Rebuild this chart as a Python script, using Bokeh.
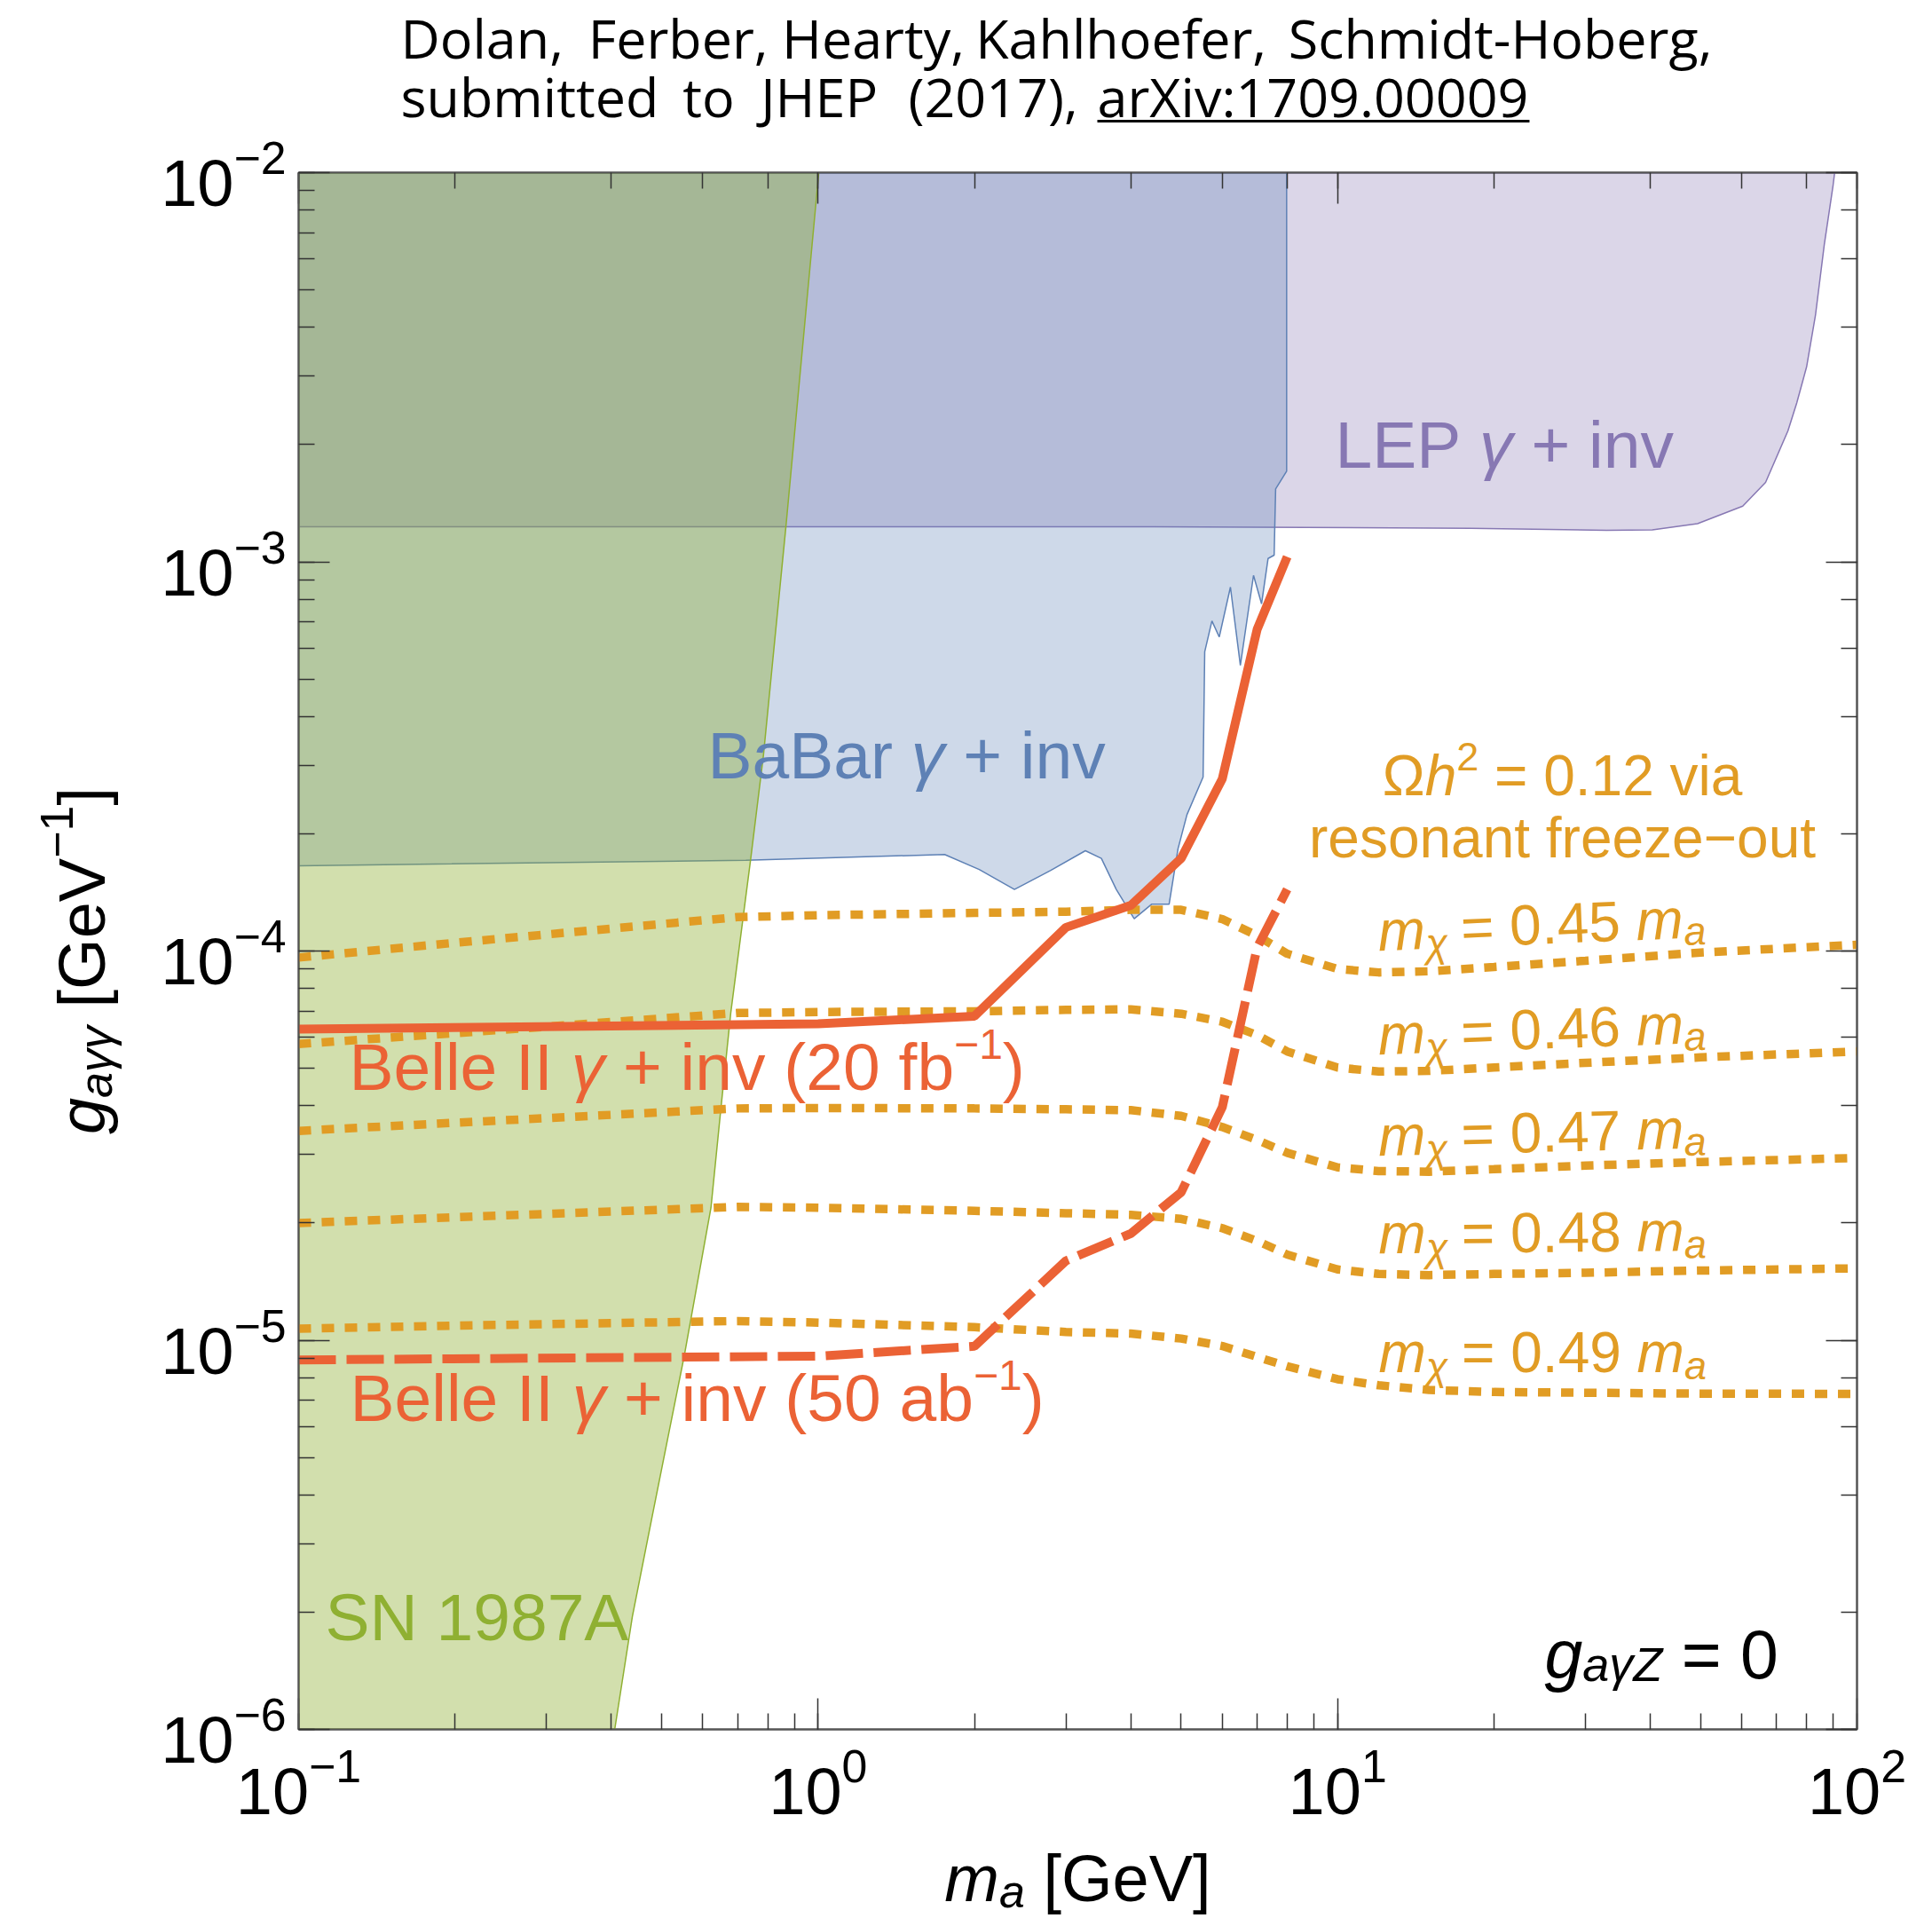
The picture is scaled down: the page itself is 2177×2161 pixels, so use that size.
import math
from bokeh.plotting import figure
from bokeh.layouts import column, row
from bokeh.models import Label, LogAxis, LogTicker, CustomJSTickFormatter
from bokeh.embed import file_html
from bokeh.resources import INLINE

# ---------------- data ----------------
XMIN, XMAX = 0.1, 100.0
YMIN, YMAX = 1e-6, 1e-2

# LEP gamma + inv excluded region: lower boundary (m_a [GeV], g [GeV^-1])
lep_m = [0.1, 4.44, 18.07, 32.96, 40.36, 49.32, 60.26, 66.68, 73.62, 76.56, 79.98, 83.18, 86.50, 89.95, 90.57]
lep_g = [1.23e-3, 1.23e-3, 1.22e-3, 1.205e-3, 1.208e-3, 1.253e-3, 1.39e-3, 1.60e-3, 2.17e-3, 2.56e-3,
         3.17e-3, 4.30e-3, 6.53e-3, 9.29e-3, 1e-2]

# BaBar gamma + inv excluded region: lower boundary
babar_m = [0.1, 0.726, 1.752, 2.042, 2.388, 2.80, 3.27, 3.51, 3.75, 4.06, 4.39, 4.74, 4.93, 5.13, 5.51,
           5.55, 5.73, 5.92, 6.22, 6.50, 6.89, 7.14, 7.35, 7.55, 7.60, 7.98, 7.98]
babar_g = [1.656e-4, 1.71e-4, 1.77e-4, 1.62e-4, 1.44e-4, 1.61e-4, 1.81e-4, 1.73e-4, 1.44e-4, 1.21e-4,
           1.32e-4, 1.32e-4, 1.83e-4, 2.24e-4, 2.80e-4, 5.87e-4, 7.05e-4, 6.41e-4, 8.61e-4, 5.42e-4,
           9.23e-4, 7.80e-4, 1.02e-3, 1.04e-3, 1.54e-3, 1.71e-3, 1e-2]

# SN 1987A excluded region: right boundary
sn_m = [1.003, 0.867, 0.785, 0.742, 0.679, 0.650, 0.622, 0.553, 0.480, 0.439, 0.406]
sn_g = [1e-2, 1.23e-3, 3.19e-4, 1.73e-4, 6.93e-5, 3.94e-5, 2.19e-5, 9.17e-6, 3.56e-6, 1.95e-6, 1e-6]

# Belle II projections
belle_m = [0.1, 1, 2, 3, 4, 5, 6, 7, 8]
belle20_g = [6.3e-5, 6.5e-5, 6.8e-5, 1.15e-4, 1.31e-4, 1.73e-4, 2.77e-4, 6.7e-4, 1.03e-3]
belle50_g = [8.9e-6, 9.1e-6, 9.65e-6, 1.6e-5, 1.88e-5, 2.4e-5, 3.97e-5, 1.02e-4, 1.44e-4]

# Relic density contours (Omega h^2 = 0.12), m_chi / m_a = 0.45 ... 0.49
relic_m = [0.1, 0.2, 0.7, 1, 2, 3, 4, 5, 6, 7, 8, 10, 12, 15, 20, 30, 50, 100]
relic_045 = [9.62e-5, 1.050e-4, 1.222e-4, 1.236e-4, 1.253e-4, 1.262e-4, 1.276e-4, 1.276e-4, 1.208e-4,
             1.096e-4, 9.84e-5, 8.99e-5, 8.81e-5, 8.87e-5, 9.10e-5, 9.44e-5, 9.91e-5, 1.038e-4]
relic_046 = [5.77e-5, 6.15e-5, 6.93e-5, 6.97e-5, 7.00e-5, 7.06e-5, 7.08e-5, 6.90e-5, 6.58e-5, 6.08e-5,
             5.52e-5, 5.02e-5, 4.90e-5, 4.92e-5, 5.02e-5, 5.16e-5, 5.33e-5, 5.52e-5]
relic_047 = [3.45e-5, 3.62e-5, 3.94e-5, 3.95e-5, 3.94e-5, 3.92e-5, 3.90e-5, 3.77e-5, 3.53e-5, 3.27e-5,
             3.03e-5, 2.78e-5, 2.72e-5, 2.71e-5, 2.75e-5, 2.81e-5, 2.87e-5, 2.94e-5]
relic_048 = [2.00e-5, 2.07e-5, 2.20e-5, 2.19e-5, 2.15e-5, 2.12e-5, 2.10e-5, 2.05e-5, 1.94e-5, 1.80e-5,
             1.66e-5, 1.52e-5, 1.48e-5, 1.47e-5, 1.48e-5, 1.49e-5, 1.51e-5, 1.53e-5]
relic_049 = [1.07e-5, 1.09e-5, 1.12e-5, 1.11e-5, 1.08e-5, 1.05e-5, 1.04e-5, 1.01e-5, 9.66e-6, 9.06e-6,
             8.57e-6, 7.94e-6, 7.66e-6, 7.45e-6, 7.36e-6, 7.33e-6, 7.29e-6, 7.28e-6]
relic_curves = [relic_045, relic_046, relic_047, relic_048, relic_049]
relic_labels = ["0.45", "0.46", "0.47", "0.48", "0.49"]

title_line1 = ["Dolan,", "Ferber,", "Hearty,", "Kahlhoefer,", "Schmidt-Hoberg,"]
title_line2 = ["submitted", "to", "JHEP", "(2017),", "arXiv:1709.00009"]

# ---------------- styling / layout ----------------
PURPLE = "#8778b3"
BLUE = "#5e81b5"
GREEN = "#8fb032"
RED = "#eb6235"
ORANGE = "#e19c24"
SANS = "Liberation Sans"
TFONT = "Open Sans"

W, H = 2177, 2161
FL, FR, FT, FB = 336, 2092, 194, 1948   # wanted frame edges in canvas px
HT = 150          # title strip height
HB = 87           # x-label strip height
WL = 150          # y-label strip width
HM = H - HT - HB  # main row height
WM = W - WL

def blank(w, h):
    f = figure(width=w, height=h, x_range=(0, w), y_range=(0, h), output_backend="svg",
               toolbar_location=None, x_axis_location=None, y_axis_location=None, min_border=0)
    f.grid.visible = False
    f.outline_line_color = None
    f.background_fill_color = "white"
    f.border_fill_color = "white"
    return f

title_fig = blank(W, HT)
ylab_fig = blank(WL, HM)
xlab_fig = blank(W, HB)

p = figure(width=WM, height=HM, x_axis_type="log", y_axis_type="log",
           x_range=(XMIN, XMAX), y_range=(YMIN, YMAX),
           output_backend="svg", toolbar_location=None,
           min_border_left=FL - WL, min_border_right=W - FR,
           min_border_top=FT - HT, min_border_bottom=(HT + HM) - FB)
p.grid.visible = False
p.background_fill_color = "white"
p.border_fill_color = "white"
p.outline_line_color = "#555555"
p.outline_line_width = 2

def style_axis(ax, labels=True):
    ax.major_tick_in = 35
    ax.major_tick_out = 0
    ax.minor_tick_in = 18
    ax.minor_tick_out = 0
    ax.major_tick_line_color = "#333333"
    ax.minor_tick_line_color = "#333333"
    ax.major_tick_line_width = 1.5
    ax.minor_tick_line_width = 1.5
    ax.axis_line_color = "#555555"
    ax.axis_line_width = 2
    if labels:
        ax.major_label_text_font = SANS
        ax.major_label_text_font_size = "74px"
        ax.major_label_text_color = "black"
    else:
        ax.major_label_text_font_size = "1px"
        ax.major_label_standoff = 0

style_axis(p.xaxis[0])
style_axis(p.yaxis[0])
p.xaxis[0].major_label_standoff = 20
p.yaxis[0].major_label_standoff = 14

top_ax = LogAxis(ticker=LogTicker(), formatter=CustomJSTickFormatter(code="return ''"))
right_ax = LogAxis(ticker=LogTicker(), formatter=CustomJSTickFormatter(code="return ''"))
style_axis(top_ax, labels=False)
style_axis(right_ax, labels=False)
p.add_layout(top_ax, "above")
p.add_layout(right_ax, "right")

# ---------------- regions and curves ----------------
p.patch(lep_m + [XMIN], lep_g + [YMAX], fill_color=PURPLE, fill_alpha=0.3,
        line_color=PURPLE, line_width=1.5)
p.patch(babar_m + [XMIN], babar_g + [YMAX], fill_color=BLUE, fill_alpha=0.3,
        line_color=BLUE, line_width=1.5)
p.patch(sn_m + [XMIN, XMIN], sn_g + [YMIN, YMAX], fill_color=GREEN, fill_alpha=0.4,
        line_color=GREEN, line_width=1.5)

for curve in relic_curves:
    p.line(relic_m, curve, line_color=ORANGE, line_width=9.5, line_dash="14 12")

p.line(belle_m, belle20_g, line_color=RED, line_width=10)
p.line(belle_m, belle50_g, line_color=RED, line_width=10, line_dash="42 12")

# ---------------- text helpers ----------------
ADV = {' ': 278, '+': 584, '=': 584, '(': 333, ')': 333, '.': 278, ',': 278, ':': 278, '\u2212': 584,
       '-': 333, '[': 278, ']': 278, 'A': 667, 'B': 667, 'E': 667, 'G': 778, 'I': 278, 'L': 556,
       'N': 722, 'P': 667, 'S': 667, 'V': 667, 'Z': 611, '\u03a9': 750, 'a': 556, 'b': 556, 'e': 556,
       'f': 278, 'g': 556, 'h': 556, 'i': 222, 'l': 222, 'm': 833, 'n': 556, 'o': 556, 'r': 333,
       's': 500, 't': 278, 'u': 556, 'v': 500, 'z': 500, '\u03b3': 500, '\u03c7': 500}
for d in "0123456789":
    ADV[d] = 556

# approximate Open Sans word widths at 60px (for spacing the title words)
TWORD60 = {"Dolan,": 179, "Ferber,": 186, "Hearty,": 186, "Kahlhoefer,": 318, "Schmidt-Hoberg,": 466,
           "submitted": 282, "to": 56, "JHEP": 133, "(2017),": 179, "arXiv:1709.00009": 477}

# canvas origin (left, bottom) of each figure's frame
ORIG = {
    "main": (p, FL, FB),
    "title": (title_fig, 0, HT),
    "ylab": (ylab_fig, 0, HT + HM),
    "xlab": (xlab_fig, 0, H),
}
# Bokeh places "alphabetic" labels with the text box centred on the anchor:
# shift by (ascent - (ascent + descent) / 2) of the font
BASE_CORR = {SANS: 0.3465, TFONT: 0.388}

def tw(t, size):
    return sum(ADV.get(c, 556) for c in t) * size / 1000.0

def put(where, X, Y, text, size, color, style, angle, font):
    fig, ox, oy = ORIG[where]
    fig.add_layout(Label(x=X - ox, y=oy - Y, x_units="screen", y_units="screen", text=text,
                         text_font=font, text_font_size=f"{size}px", text_font_style=style,
                         text_color=color, text_align="left", text_baseline="alphabetic",
                         angle=angle))

def rich(where, X, Y, pieces, color, angle_deg=0.0, anchor="left", font=SANS):
    th = math.radians(angle_deg)
    dx, dy = math.cos(th), -math.sin(th)
    ux, uy = -math.sin(th), -math.cos(th)
    total = sum(tw(t, sz) for t, sz, st, r in pieces)
    s = {"left": 0.0, "center": -total / 2.0, "right": -total}[anchor]
    for t, sz, st, r in pieces:
        lead = len(t) - len(t.lstrip(" "))
        core = t.strip(" ")
        s0 = s + tw(" " * lead, sz)
        rr = r + BASE_CORR[font] * sz
        if core:
            put(where, X + s0 * dx + rr * ux, Y + s0 * dy + rr * uy, core, sz, color, st, th, font)
        s += tw(t, sz)

N, I = "normal", "italic"

# title: words spread evenly over (nearly) the span the reference uses
TS = 61
def title_line(words, x0, x1, baseline):
    widths = [TWORD60[w] * TS / 60.0 for w in words]
    gap = (x1 - x0 - sum(widths)) / (len(words) - 1)
    x = x0
    starts = []
    for w, wd in zip(words, widths):
        rich("title", x, baseline, [(w, TS, N, 0)], "black", font=TFONT)
        starts.append((x, wd))
        x += wd + gap
    return starts

title_line(title_line1, 451, 1925, 66)
w_arx = TWORD60[title_line2[-1]] * TS / 60.0
pos2 = title_line(title_line2, 451, 1236 + w_arx, 132)
ux0, uw = pos2[-1]
title_fig.line([ux0, ux0 + uw + 2], [HT - 136, HT - 136], line_color="black", line_width=3)

# region labels
rich("main", 1504, 526, [("LEP ", 75, N, 0), ("\u03b3", 75, I, 0), (" + inv", 75, N, 0)], PURPLE)
rich("main", 797, 876, [("BaBar ", 75, N, 0), ("\u03b3", 75, I, 0), (" + inv", 75, N, 0)], BLUE)
rich("main", 366, 1847, [("SN 1987A", 75, N, 0)], GREEN)
rich("main", 393, 1227, [("Belle II ", 75, N, 0), ("\u03b3", 75, I, 0), (" + inv (20 fb", 75, N, 0),
                         ("\u22121", 48, N, 34), (")", 75, N, 0)], RED)
rich("main", 394, 1600, [("Belle II ", 75, N, 0), ("\u03b3", 75, I, 0), (" + inv (50 ab", 75, N, 0),
                         ("\u22121", 48, N, 34), (")", 75, N, 0)], RED)

# relic density labels
rich("main", 1760, 896, [("\u03a9", 64, N, 0), ("h", 64, I, 0), ("2", 45, N, 28),
                         (" = 0.12 via", 64, N, 0)], ORANGE, anchor="center")
rich("main", 1760, 966, [("resonant freeze\u2212out", 64, N, 0)], ORANGE, anchor="center")
mx_base = [1071, 1188, 1302, 1412, 1546]
mx_ang = [2.4, 2.1, 1.4, 0.5, 0.0]
for lab, yb, ang in zip(relic_labels, mx_base, mx_ang):
    rich("main", 1553, yb, [("m", 64, I, 0), ("\u03c7", 45, I, -9), (f" = {lab} ", 64, N, 0),
                            ("m", 64, I, 0), ("a", 45, I, -8)], ORANGE, angle_deg=ang)

rich("main", 1740, 1890, [("g", 77, I, 0), ("a\u03b3Z", 54, I, -3), (" = 0", 77, N, 0)], "black")

# axis labels
rich("xlab", 1214, 2142, [("m", 74, I, 0), ("a", 52, I, -7), (" [GeV]", 74, N, 0)], "black",
     anchor="center")
YLAB_DY = 135   # empirical correction for rotated labels
rich("ylab", 118, 1073 + YLAB_DY, [("g", 74, I, 0), ("a\u03b3\u03b3", 52, I, -8), (" [GeV", 74, N, 0),
                                   ("\u22121", 52, N, 36), ("]", 74, N, 0)], "black", angle_deg=90,
     anchor="center")

layout = column(title_fig, row(ylab_fig, p, spacing=0), xlab_fig, spacing=0)
open("out.html", "w").write(file_html(layout, INLINE))
